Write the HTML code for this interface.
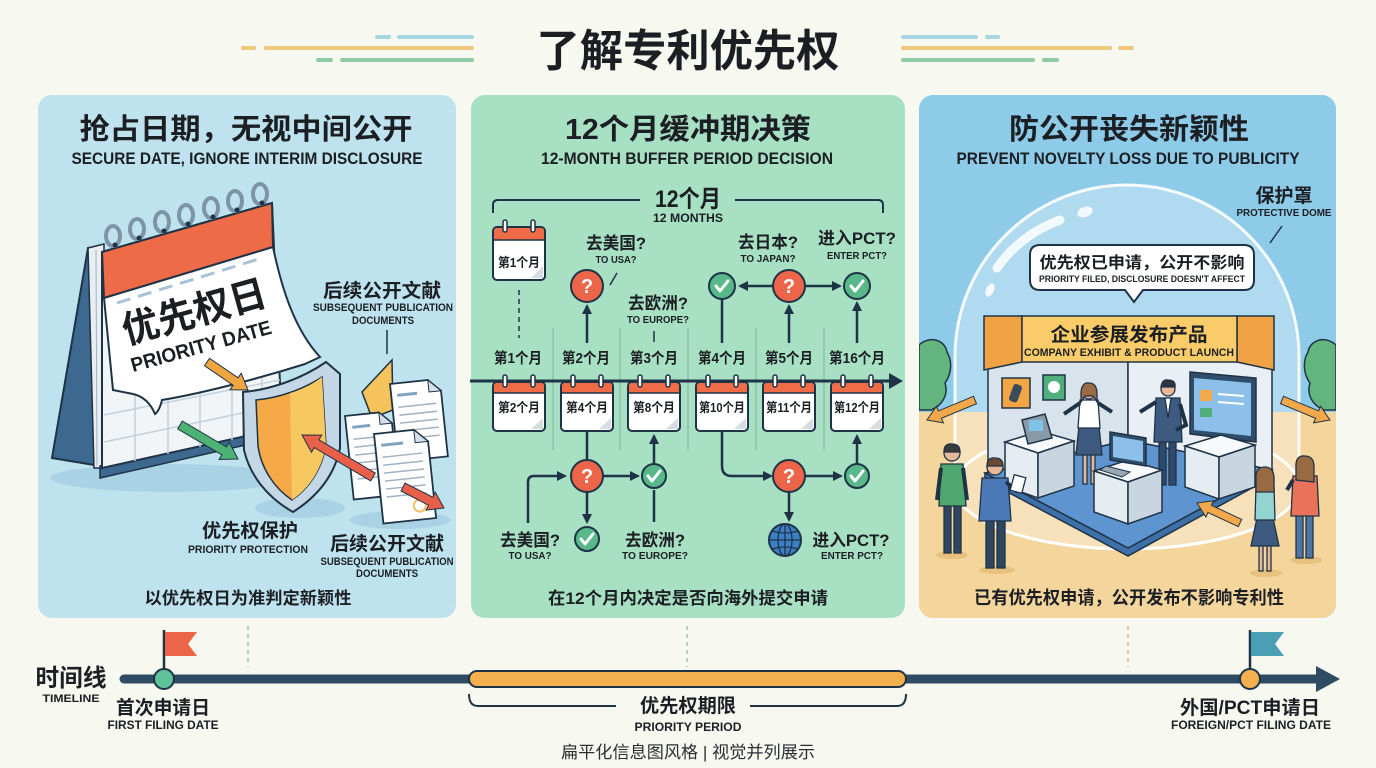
<!DOCTYPE html>
<html><head><meta charset="utf-8">
<style>
html,body{margin:0;padding:0;background:#f7f8ef;}
svg{display:block;}
.t{font-family:"Liberation Sans","Noto Sans CJK SC",sans-serif;font-weight:700;fill:#1b1f24;text-anchor:middle;}
.n{font-family:"Liberation Sans","Noto Sans CJK SC",sans-serif;font-weight:400;fill:#2a2e33;text-anchor:middle;}
</style></head>
<body>
<svg width="1376" height="768" viewBox="0 0 1376 768" xmlns="http://www.w3.org/2000/svg">
<defs>
<marker id="ah" viewBox="0 0 10 10" refX="8" refY="5" markerWidth="4" markerHeight="4" orient="auto"><path d="M0,0 L10,5 L0,10 Z" fill="#1f3346"/></marker>
<clipPath id="rp"><rect x="919" y="95" width="417" height="523" rx="14"/></clipPath>
</defs>
<rect width="1376" height="768" fill="#f7f8ef"/>

<!-- decorative lines -->
<g stroke-linecap="round" stroke-width="4">
<line x1="377" y1="37" x2="389" y2="37" stroke="#a9d6e3"/><line x1="399" y1="37" x2="472" y2="37" stroke="#a9d6e3"/>
<line x1="243" y1="48" x2="254" y2="48" stroke="#efc77c"/><line x1="266" y1="48" x2="472" y2="48" stroke="#efc77c"/>
<line x1="318" y1="60" x2="331" y2="60" stroke="#8fcaa6"/><line x1="342" y1="60" x2="472" y2="60" stroke="#8fcaa6"/>
<line x1="903" y1="37" x2="976" y2="37" stroke="#a9d6e3"/><line x1="987" y1="37" x2="998" y2="37" stroke="#a9d6e3"/>
<line x1="903" y1="48" x2="1110" y2="48" stroke="#efc77c"/><line x1="1120" y1="48" x2="1132" y2="48" stroke="#efc77c"/>
<line x1="903" y1="60" x2="1033" y2="60" stroke="#8fcaa6"/><line x1="1044" y1="60" x2="1057" y2="60" stroke="#8fcaa6"/>
</g>
<text class="t" x="688" y="66" font-size="44" textLength="303" lengthAdjust="spacingAndGlyphs" fill="#111">了解专利优先权</text>

<!-- ============ LEFT PANEL ============ -->
<rect x="38" y="95" width="418" height="523" rx="14" fill="#bee3ee"/>
<text class="t" x="246" y="139" font-size="29" textLength="333" lengthAdjust="spacingAndGlyphs">抢占日期，无视中间公开</text>
<text class="t" x="247" y="164" font-size="17" textLength="351" lengthAdjust="spacingAndGlyphs">SECURE DATE, IGNORE INTERIM DISCLOSURE</text>

<!-- shadows -->
<ellipse cx="170" cy="478" rx="120" ry="14" fill="#a9d3e5"/>
<ellipse cx="300" cy="508" rx="45" ry="10" fill="#a9d3e5"/>
<ellipse cx="400" cy="520" rx="50" ry="9" fill="#a9d3e5"/>

<!-- calendar -->
<polygon points="52,458 88,248 100,246 100,466" fill="#3d6990" stroke="#1f3346" stroke-width="2"/>
<polygon points="88,248 104,244 104,468 94,468" fill="#e9eef2" stroke="#1f3346" stroke-width="1.5"/>
<line x1="96" y1="250" x2="97" y2="466" stroke="#9fb3c3" stroke-width="1"/>
<polygon points="100,466 250,432 250,444 100,478" fill="#3d6990" stroke="#1f3346" stroke-width="1.5"/>
<polygon points="102,252 272,203 282,428 102,468" fill="#f2f5f8" stroke="#1f3346" stroke-width="2"/>
<g stroke="#c2d1dc" stroke-width="1.5">
<line x1="104" y1="415" x2="280" y2="380"/><line x1="104" y1="442" x2="281" y2="405"/>
<line x1="135" y1="392" x2="135" y2="461"/><line x1="168" y1="385" x2="168" y2="454"/><line x1="200" y1="378" x2="200" y2="447"/><line x1="232" y1="372" x2="232" y2="440"/><line x1="262" y1="366" x2="262" y2="434"/>
</g>
<polygon points="102,252 272,203 273,247 104,298" fill="#ee6b47" stroke="#1f3346" stroke-width="2"/>
<g fill="none" stroke="#7d93a8" stroke-width="4">
<ellipse cx="113" cy="236" rx="7" ry="10"/><ellipse cx="137" cy="229" rx="7" ry="10"/><ellipse cx="162" cy="222" rx="7" ry="10"/><ellipse cx="186" cy="215" rx="7" ry="10"/><ellipse cx="211" cy="208" rx="7" ry="10"/><ellipse cx="235" cy="201" rx="7" ry="10"/><ellipse cx="260" cy="194" rx="7" ry="10"/>
</g>
<g fill="#1f3346"><circle cx="115" cy="245" r="2.5"/><circle cx="139" cy="238" r="2.5"/><circle cx="164" cy="231" r="2.5"/><circle cx="188" cy="224" r="2.5"/><circle cx="213" cy="217" r="2.5"/><circle cx="237" cy="210" r="2.5"/><circle cx="262" cy="203" r="2.5"/></g>
<path d="M104,298 L273,247 C282,290 295,330 320,357 L305,364 C270,375 210,392 162,400 C160,408 158,412 155,414 C150,402 142,396 133,394 L113,390 Z" fill="#ffffff" stroke="#1f3346" stroke-width="2"/>
<line x1="117" y1="303" x2="262" y2="258" stroke="#a9c2d5" stroke-width="3" stroke-dasharray="14 8"/>
<text class="t" font-size="38" transform="translate(194,311) rotate(-15.5)" y="14" textLength="148" lengthAdjust="spacingAndGlyphs" fill="#111">优先权日</text>
<text class="t" font-size="20" transform="translate(201,346) rotate(-15.5)" y="7" textLength="145" lengthAdjust="spacingAndGlyphs" fill="#111">PRIORITY DATE</text>

<!-- arrows orange & green -->
<polygon points="204.5,365.7 233.1,385.2 230,389.8 248,390 241.2,373.2 238.1,377.8 209.5,358.3" fill="#f0a640" stroke="#1f3346" stroke-width="1"/>
<polygon points="177.7,428.9 221.9,454.8 219.1,459.5 238,459 229.3,442.3 226.5,447 182.3,421.1" fill="#4db374" stroke="#1f3346" stroke-width="1"/>

<!-- shield -->
<path d="M243,392 C268,390 300,380 326,362 L340,374 L340,448 C334,478 315,498 293,512 C268,498 250,476 244,450 Z" fill="#c3d7e6" stroke="#1f3346" stroke-width="2"/>
<path d="M256,400 C278,398 302,390 322,377 L326,446 C321,472 307,490 292,500 C274,488 261,468 258,446 Z" fill="#f5a947" stroke="#1f3346" stroke-width="1.5"/>
<path d="M290,393 C302,390 313,384 322,377 L326,446 C321,472 307,490 292,500 Z" fill="#f8c860"/>

<!-- documents -->
<line x1="387" y1="330" x2="387" y2="354" stroke="#1f3346" stroke-width="1.5"/>
<polygon points="362,392 392,360 393,410 372,418" fill="#f5c25c" stroke="#1f3346" stroke-width="1.5"/>
<g transform="translate(390,384) rotate(-6)">
<path d="M0,0 L38,0 L50,12 L50,78 L0,78 Z" fill="#fff" stroke="#1f3346" stroke-width="1.8"/><path d="M38,0 L38,12 L50,12 Z" fill="#d7e0e7" stroke="#1f3346" stroke-width="1"/>
<g stroke="#9fb3c3" stroke-width="1.5"><line x1="6" y1="12" x2="26" y2="12" stroke="#7fa3bf" stroke-width="3"/><line x1="6" y1="24" x2="44" y2="24"/><line x1="6" y1="32" x2="44" y2="32"/><line x1="6" y1="40" x2="44" y2="40"/><line x1="6" y1="48" x2="44" y2="48"/><line x1="6" y1="56" x2="44" y2="56"/></g></g>
<g transform="translate(345,416) rotate(-6)">
<path d="M0,0 L34,0 L46,12 L46,84 L0,84 Z" fill="#fff" stroke="#1f3346" stroke-width="1.8"/><path d="M34,0 L34,12 L46,12 Z" fill="#d7e0e7" stroke="#1f3346" stroke-width="1"/>
<g stroke="#9fb3c3" stroke-width="1.5"><line x1="6" y1="12" x2="24" y2="12" stroke="#7fa3bf" stroke-width="3"/><line x1="6" y1="24" x2="40" y2="24"/><line x1="6" y1="32" x2="40" y2="32"/><line x1="6" y1="40" x2="40" y2="40"/><line x1="6" y1="48" x2="40" y2="48"/><line x1="6" y1="56" x2="40" y2="56"/><line x1="6" y1="64" x2="40" y2="64"/></g></g>
<g transform="translate(374,434) rotate(-6)">
<path d="M0,0 L40,0 L53,13 L53,90 L0,90 Z" fill="#fff" stroke="#1f3346" stroke-width="1.8"/><path d="M40,0 L40,13 L53,13 Z" fill="#d7e0e7" stroke="#1f3346" stroke-width="1"/>
<g stroke="#9fb3c3" stroke-width="1.5"><line x1="6" y1="12" x2="28" y2="12" stroke="#7fa3bf" stroke-width="3"/><line x1="6" y1="24" x2="46" y2="24"/><line x1="6" y1="32" x2="46" y2="32"/><line x1="6" y1="40" x2="46" y2="40"/><line x1="6" y1="48" x2="46" y2="48"/><line x1="6" y1="56" x2="46" y2="56"/><line x1="6" y1="64" x2="46" y2="64"/></g>
<circle cx="38" cy="76" r="6" fill="none" stroke="#f0c060" stroke-width="2"/></g>
<polygon points="375.3,473.1 318.9,439.8 321.7,435.1 302,435 311.5,452.3 314.3,447.6 370.7,480.9" fill="#e8604a" stroke="#1f3346" stroke-width="1"/>
<polygon points="401,491 428.6,505.2 426.1,510.1 444,508 435.3,492.3 432.8,497.2 405,483" fill="#e8604a" stroke="#1f3346" stroke-width="1"/>

<text class="t" x="382" y="297" font-size="19" textLength="118" lengthAdjust="spacingAndGlyphs">后续公开文献</text>
<text class="t" x="383" y="311" font-size="11" textLength="140" lengthAdjust="spacingAndGlyphs">SUBSEQUENT PUBLICATION</text>
<text class="t" x="383" y="324" font-size="11" textLength="62" lengthAdjust="spacingAndGlyphs">DOCUMENTS</text>
<text class="t" x="250" y="537" font-size="19" textLength="96" lengthAdjust="spacingAndGlyphs">优先权保护</text>
<text class="t" x="248" y="553" font-size="11" textLength="120" lengthAdjust="spacingAndGlyphs">PRIORITY PROTECTION</text>
<text class="t" x="387" y="550" font-size="19" textLength="114" lengthAdjust="spacingAndGlyphs">后续公开文献</text>
<text class="t" x="387" y="565" font-size="11" textLength="133" lengthAdjust="spacingAndGlyphs">SUBSEQUENT PUBLICATION</text>
<text class="t" x="387" y="577" font-size="11" textLength="62" lengthAdjust="spacingAndGlyphs">DOCUMENTS</text>
<text class="t" x="248" y="604" font-size="17" textLength="207" lengthAdjust="spacingAndGlyphs">以优先权日为准判定新颖性</text>

<!-- ============ MIDDLE PANEL ============ -->
<rect x="471" y="95" width="434" height="523" rx="14" fill="#a8e0c3"/>
<text class="t" x="688" y="139" font-size="29" textLength="246" lengthAdjust="spacingAndGlyphs">12个月缓冲期决策</text>
<text class="t" x="687" y="164" font-size="17" textLength="292" lengthAdjust="spacingAndGlyphs">12-MONTH BUFFER PERIOD DECISION</text>
<path d="M493,213 L493,205 Q493,200 498,200 L640,200 M735,200 L878,200 Q883,200 883,205 L883,213" stroke="#1f3346" stroke-width="2" fill="none"/>
<text class="t" x="688" y="207" font-size="24" textLength="66" lengthAdjust="spacingAndGlyphs">12个月</text>
<text class="t" x="688" y="222" font-size="12" textLength="70" lengthAdjust="spacingAndGlyphs">12 MONTHS</text>

<!-- column dividers -->
<g stroke="#6e9e8c" stroke-width="1" opacity="0.7">
<line x1="553" y1="328" x2="553" y2="450"/><line x1="620" y1="328" x2="620" y2="450"/><line x1="688" y1="328" x2="688" y2="450"/><line x1="756" y1="328" x2="756" y2="450"/><line x1="824" y1="328" x2="824" y2="450"/>
</g>
<!-- top calendar -->
<rect x="493" y="227" width="52" height="53" rx="4" fill="#fff" stroke="#1f3346" stroke-width="2"/>
<path d="M494,240 L494,231 Q494,228 497,228 L541,228 Q544,228 544,231 L544,240 Z" fill="#ef6c47"/>
<line x1="494" y1="240" x2="544" y2="240" stroke="#1f3346" stroke-width="1.5"/>
<rect x="503" y="220" width="4" height="12" rx="2" fill="#fff" stroke="#1f3346" stroke-width="1.5"/><rect x="531" y="220" width="4" height="12" rx="2" fill="#fff" stroke="#1f3346" stroke-width="1.5"/>
<polygon points="543,266 543,278 531,278" fill="#d5dde3"/>
<text class="t" x="519" y="267" font-size="13" textLength="42" lengthAdjust="spacingAndGlyphs">第1个月</text>
<line x1="519" y1="290" x2="519" y2="338" stroke="#1f3346" stroke-width="1.5" stroke-dasharray="5 4"/>

<!-- upper decisions -->
<text class="t" x="616" y="249" font-size="17" textLength="60" lengthAdjust="spacingAndGlyphs">去美国?</text>
<text class="t" x="616" y="263" font-size="10.5" textLength="41" lengthAdjust="spacingAndGlyphs">TO USA?</text>
<line x1="610" y1="285" x2="617" y2="273" stroke="#1f3346" stroke-width="1.5"/>
<line x1="587" y1="343" x2="587" y2="306" stroke="#1f3346" stroke-width="2.5" marker-end="url(#ah)"/>
<circle cx="587" cy="286" r="16" fill="#ec6549" stroke="#1f3346" stroke-width="2"/>
<text class="t" x="587" y="293" font-size="20" fill="#fff" style="fill:#fff">?</text>
<text class="t" x="658" y="309" font-size="17" textLength="60" lengthAdjust="spacingAndGlyphs">去欧洲?</text>
<text class="t" x="658" y="323" font-size="10.5" textLength="62" lengthAdjust="spacingAndGlyphs">TO EUROPE?</text>
<line x1="654" y1="331" x2="654" y2="342" stroke="#1f3346" stroke-width="1.5"/>
<text class="t" x="768" y="248" font-size="17" textLength="60" lengthAdjust="spacingAndGlyphs">去日本?</text>
<text class="t" x="768" y="262" font-size="10.5" textLength="55" lengthAdjust="spacingAndGlyphs">TO JAPAN?</text>
<text class="t" x="857" y="244" font-size="17" textLength="78" lengthAdjust="spacingAndGlyphs">进入PCT?</text>
<text class="t" x="857" y="259" font-size="10.5" textLength="60" lengthAdjust="spacingAndGlyphs">ENTER PCT?</text>
<line x1="722" y1="299" x2="722" y2="343" stroke="#1f3346" stroke-width="2.5"/>
<line x1="773" y1="286" x2="740" y2="286" stroke="#1f3346" stroke-width="2.5" marker-end="url(#ah)"/>
<line x1="805" y1="286" x2="840" y2="286" stroke="#1f3346" stroke-width="2.5" marker-end="url(#ah)"/>
<line x1="789" y1="343" x2="789" y2="306" stroke="#1f3346" stroke-width="2.5" marker-end="url(#ah)"/>
<line x1="857" y1="343" x2="857" y2="303" stroke="#1f3346" stroke-width="2.5" marker-end="url(#ah)"/>
<circle cx="722" cy="286" r="13" fill="#58b88a" stroke="#1f3346" stroke-width="2"/>
<polyline points="716,286 720,291 728,281" fill="none" stroke="#fff" stroke-width="3" stroke-linecap="round" stroke-linejoin="round"/>
<circle cx="789" cy="286" r="16" fill="#ec6549" stroke="#1f3346" stroke-width="2"/>
<text class="t" x="789" y="293" font-size="20" style="fill:#fff">?</text>
<circle cx="857" cy="286" r="13" fill="#58b88a" stroke="#1f3346" stroke-width="2"/>
<polyline points="851,286 855,291 863,281" fill="none" stroke="#fff" stroke-width="3" stroke-linecap="round" stroke-linejoin="round"/>

<!-- month labels -->
<g font-size="15">
<text class="t" x="518" y="363" textLength="48" lengthAdjust="spacingAndGlyphs">第1个月</text>
<text class="t" x="586" y="363" textLength="48" lengthAdjust="spacingAndGlyphs">第2个月</text>
<text class="t" x="654" y="363" textLength="48" lengthAdjust="spacingAndGlyphs">第3个月</text>
<text class="t" x="722" y="363" textLength="48" lengthAdjust="spacingAndGlyphs">第4个月</text>
<text class="t" x="789" y="363" textLength="48" lengthAdjust="spacingAndGlyphs">第5个月</text>
<text class="t" x="857" y="363" textLength="56" lengthAdjust="spacingAndGlyphs">第16个月</text>
</g>
<!-- axis -->
<line x1="470" y1="381" x2="892" y2="381" stroke="#1f3346" stroke-width="3"/>
<polygon points="889,373 903,381 889,389" fill="#1f3346"/>

<!-- lower calendars -->
<g id="cals">
<g transform="translate(519,0)"><rect x="-26" y="382" width="52" height="49" rx="4" fill="#fff" stroke="#1f3346" stroke-width="2"/><path d="M-25,393 L-25,386 Q-25,383 -22,383 L22,383 Q25,383 25,386 L25,393 Z" fill="#ef6c47"/><line x1="-25" y1="393" x2="25" y2="393" stroke="#1f3346" stroke-width="1.5"/><rect x="-16" y="375" width="4" height="12" rx="2" fill="#fff" stroke="#1f3346" stroke-width="1.5"/><rect x="12" y="375" width="4" height="12" rx="2" fill="#fff" stroke="#1f3346" stroke-width="1.5"/><polygon points="24,418 24,429 12,429" fill="#d5dde3"/><text class="t" x="0" y="412" font-size="13" textLength="42" lengthAdjust="spacingAndGlyphs">第2个月</text></g>
<g transform="translate(587,0)"><rect x="-26" y="382" width="52" height="49" rx="4" fill="#fff" stroke="#1f3346" stroke-width="2"/><path d="M-25,393 L-25,386 Q-25,383 -22,383 L22,383 Q25,383 25,386 L25,393 Z" fill="#ef6c47"/><line x1="-25" y1="393" x2="25" y2="393" stroke="#1f3346" stroke-width="1.5"/><rect x="-16" y="375" width="4" height="12" rx="2" fill="#fff" stroke="#1f3346" stroke-width="1.5"/><rect x="12" y="375" width="4" height="12" rx="2" fill="#fff" stroke="#1f3346" stroke-width="1.5"/><polygon points="24,418 24,429 12,429" fill="#d5dde3"/><text class="t" x="0" y="412" font-size="13" textLength="42" lengthAdjust="spacingAndGlyphs">第4个月</text></g>
<g transform="translate(654,0)"><rect x="-26" y="382" width="52" height="49" rx="4" fill="#fff" stroke="#1f3346" stroke-width="2"/><path d="M-25,393 L-25,386 Q-25,383 -22,383 L22,383 Q25,383 25,386 L25,393 Z" fill="#ef6c47"/><line x1="-25" y1="393" x2="25" y2="393" stroke="#1f3346" stroke-width="1.5"/><rect x="-16" y="375" width="4" height="12" rx="2" fill="#fff" stroke="#1f3346" stroke-width="1.5"/><rect x="12" y="375" width="4" height="12" rx="2" fill="#fff" stroke="#1f3346" stroke-width="1.5"/><polygon points="24,418 24,429 12,429" fill="#d5dde3"/><text class="t" x="0" y="412" font-size="13" textLength="42" lengthAdjust="spacingAndGlyphs">第8个月</text></g>
<g transform="translate(722,0)"><rect x="-26" y="382" width="52" height="49" rx="4" fill="#fff" stroke="#1f3346" stroke-width="2"/><path d="M-25,393 L-25,386 Q-25,383 -22,383 L22,383 Q25,383 25,386 L25,393 Z" fill="#ef6c47"/><line x1="-25" y1="393" x2="25" y2="393" stroke="#1f3346" stroke-width="1.5"/><rect x="-16" y="375" width="4" height="12" rx="2" fill="#fff" stroke="#1f3346" stroke-width="1.5"/><rect x="12" y="375" width="4" height="12" rx="2" fill="#fff" stroke="#1f3346" stroke-width="1.5"/><polygon points="24,418 24,429 12,429" fill="#d5dde3"/><text class="t" x="0" y="412" font-size="13" textLength="46" lengthAdjust="spacingAndGlyphs">第10个月</text></g>
<g transform="translate(789,0)"><rect x="-26" y="382" width="52" height="49" rx="4" fill="#fff" stroke="#1f3346" stroke-width="2"/><path d="M-25,393 L-25,386 Q-25,383 -22,383 L22,383 Q25,383 25,386 L25,393 Z" fill="#ef6c47"/><line x1="-25" y1="393" x2="25" y2="393" stroke="#1f3346" stroke-width="1.5"/><rect x="-16" y="375" width="4" height="12" rx="2" fill="#fff" stroke="#1f3346" stroke-width="1.5"/><rect x="12" y="375" width="4" height="12" rx="2" fill="#fff" stroke="#1f3346" stroke-width="1.5"/><polygon points="24,418 24,429 12,429" fill="#d5dde3"/><text class="t" x="0" y="412" font-size="13" textLength="46" lengthAdjust="spacingAndGlyphs">第11个月</text></g>
<g transform="translate(857,0)"><rect x="-26" y="382" width="52" height="49" rx="4" fill="#fff" stroke="#1f3346" stroke-width="2"/><path d="M-25,393 L-25,386 Q-25,383 -22,383 L22,383 Q25,383 25,386 L25,393 Z" fill="#ef6c47"/><line x1="-25" y1="393" x2="25" y2="393" stroke="#1f3346" stroke-width="1.5"/><rect x="-16" y="375" width="4" height="12" rx="2" fill="#fff" stroke="#1f3346" stroke-width="1.5"/><rect x="12" y="375" width="4" height="12" rx="2" fill="#fff" stroke="#1f3346" stroke-width="1.5"/><polygon points="24,418 24,429 12,429" fill="#d5dde3"/><text class="t" x="0" y="412" font-size="13" textLength="46" lengthAdjust="spacingAndGlyphs">第12个月</text></g>
</g>

<!-- lower flows -->
<g stroke="#1f3346" stroke-width="2.5" fill="none">
<line x1="587" y1="431" x2="587" y2="460"/>
<path d="M528,523 L528,482 Q528,476 534,476 L565,476" marker-end="url(#ah)"/>
<line x1="603" y1="476" x2="638" y2="476" marker-end="url(#ah)"/>
<line x1="654" y1="464" x2="654" y2="436" marker-end="url(#ah)"/>
<line x1="587" y1="492" x2="587" y2="522" marker-end="url(#ah)"/>
<line x1="654" y1="490" x2="654" y2="522"/>
<path d="M722,431 L722,466 Q722,476 732,476 L771,476" marker-end="url(#ah)"/>
<line x1="805" y1="476" x2="841" y2="476" marker-end="url(#ah)"/>
<line x1="857" y1="464" x2="857" y2="436" marker-end="url(#ah)"/>
<line x1="789" y1="492" x2="789" y2="520" marker-end="url(#ah)"/>
</g>
<circle cx="587" cy="476" r="16" fill="#ec6549" stroke="#1f3346" stroke-width="2"/>
<text class="t" x="587" y="483" font-size="20" style="fill:#fff">?</text>
<circle cx="654" cy="476" r="12" fill="#58b88a" stroke="#1f3346" stroke-width="2"/>
<polyline points="648,476 652,481 660,471" fill="none" stroke="#fff" stroke-width="3" stroke-linecap="round" stroke-linejoin="round"/>
<circle cx="587" cy="539" r="12" fill="#58b88a" stroke="#1f3346" stroke-width="2"/>
<polyline points="581,539 585,544 593,534" fill="none" stroke="#fff" stroke-width="3" stroke-linecap="round" stroke-linejoin="round"/>
<circle cx="789" cy="476" r="16" fill="#ec6549" stroke="#1f3346" stroke-width="2"/>
<text class="t" x="789" y="483" font-size="20" style="fill:#fff">?</text>
<circle cx="857" cy="476" r="12" fill="#58b88a" stroke="#1f3346" stroke-width="2"/>
<polyline points="851,476 855,481 863,471" fill="none" stroke="#fff" stroke-width="3" stroke-linecap="round" stroke-linejoin="round"/>
<!-- globe -->
<circle cx="785" cy="540" r="16" fill="#3b80c6" stroke="#1f3346" stroke-width="2"/>
<g fill="none" stroke="#1f3346" stroke-width="1.3"><ellipse cx="785" cy="540" rx="7" ry="16"/><line x1="785" y1="524" x2="785" y2="556"/><line x1="769" y1="540" x2="801" y2="540"/><path d="M772,531 Q785,535 798,531 M772,549 Q785,545 798,549"/></g>

<text class="t" x="530" y="546" font-size="17" textLength="60" lengthAdjust="spacingAndGlyphs">去美国?</text>
<text class="t" x="530" y="559" font-size="10.5" textLength="43" lengthAdjust="spacingAndGlyphs">TO USA?</text>
<text class="t" x="655" y="546" font-size="17" textLength="60" lengthAdjust="spacingAndGlyphs">去欧洲?</text>
<text class="t" x="655" y="559" font-size="10.5" textLength="66" lengthAdjust="spacingAndGlyphs">TO EUROPE?</text>
<text class="t" x="851" y="546" font-size="17" textLength="77" lengthAdjust="spacingAndGlyphs">进入PCT?</text>
<text class="t" x="852" y="559" font-size="10.5" textLength="62" lengthAdjust="spacingAndGlyphs">ENTER PCT?</text>
<text class="t" x="688" y="604" font-size="17" textLength="280" lengthAdjust="spacingAndGlyphs">在12个月内决定是否向海外提交申请</text>

<!-- ============ RIGHT PANEL ============ -->
<g clip-path="url(#rp)">
<rect x="919" y="95" width="417" height="523" fill="#8ecbe9"/>
<rect x="919" y="412" width="417" height="206" fill="#f4d59c"/>
<path d="M919,345 C930,335 945,340 947,352 C953,362 951,375 945,383 C949,396 941,406 931,410 L919,410 Z" fill="#62b67d" stroke="#1f3346" stroke-width="1.5"/>
<path d="M1336,345 C1325,335 1310,340 1308,352 C1302,362 1304,375 1310,383 C1306,396 1314,406 1324,410 L1336,410 Z" fill="#62b67d" stroke="#1f3346" stroke-width="1.5"/>
</g>
<!-- dome -->
<path d="M955,487 L955,357 A172,172 0 0 1 1299,357 L1299,487 A172,62 0 0 1 955,487 Z" fill="#ffffff" opacity="0.3"/>
<path d="M955,490 L955,357 A172,172 0 0 1 1299,357 L1299,490" fill="none" stroke="#ffffff" stroke-width="3" opacity="0.9"/>
<ellipse cx="1127" cy="487" rx="172" ry="62" fill="none" stroke="#ffffff" stroke-width="3"/>
<path d="M997,268 Q1020,235 1060,220" fill="none" stroke="#fff" stroke-width="9" stroke-linecap="round" opacity="0.85"/>
<ellipse cx="1085" cy="212" rx="8" ry="5" fill="#fff" opacity="0.85" transform="rotate(-20 1085 212)"/>
<ellipse cx="990" cy="290" rx="4" ry="7" fill="#fff" opacity="0.85" transform="rotate(25 990 290)"/>

<text class="t" x="1284" y="202" font-size="19" textLength="57" lengthAdjust="spacingAndGlyphs">保护罩</text>
<text class="t" x="1284" y="216" font-size="10" textLength="95" lengthAdjust="spacingAndGlyphs">PROTECTIVE DOME</text>
<line x1="1282" y1="226" x2="1270" y2="243" stroke="#1f3346" stroke-width="1.5"/>

<!-- bubble -->
<path d="M1040,245 L1244,245 Q1254,245 1254,255 L1254,280 Q1254,290 1244,290 L1143,290 L1134,302 L1125,290 L1040,290 Q1030,290 1030,280 L1030,255 Q1030,245 1040,245 Z" fill="#fff" stroke="#1f3346" stroke-width="2"/>
<text class="t" x="1142" y="268" font-size="16" textLength="205" lengthAdjust="spacingAndGlyphs">优先权已申请，公开不影响</text>
<text class="t" x="1142" y="282" font-size="9" textLength="206" lengthAdjust="spacingAndGlyphs">PRIORITY FILED, DISCLOSURE DOESN'T AFFECT</text>

<!-- booth -->
<polygon points="985,473 1128,548 1272,470 1272,477 1128,556 985,480" fill="#3d6fa8" stroke="#1f3346" stroke-width="1.5"/>
<polygon points="985,473 1128,548 1272,470 1128,440" fill="#5e95d1" stroke="#1f3346" stroke-width="1.5"/>
<polygon points="988,360 1128,360 1128,440 988,473" fill="#d8e3ec" stroke="#1f3346" stroke-width="1.5"/>
<polygon points="1128,360 1272,360 1272,470 1128,440" fill="#e9eff4" stroke="#1f3346" stroke-width="1.5"/>
<polygon points="984,316 1022,316 1022,362 984,370" fill="#f0a345" stroke="#1f3346" stroke-width="1.5"/>
<polygon points="1237,316 1274,316 1274,370 1237,362" fill="#f0a345" stroke="#1f3346" stroke-width="1.5"/>
<rect x="1022" y="316" width="215" height="46" fill="#f9cc69" stroke="#1f3346" stroke-width="1.5"/>
<text class="t" x="1129" y="341" font-size="19" textLength="157" lengthAdjust="spacingAndGlyphs">企业参展发布产品</text>
<text class="t" x="1129" y="356" font-size="11" textLength="210" lengthAdjust="spacingAndGlyphs">COMPANY EXHIBIT &amp; PRODUCT LAUNCH</text>
<!-- wall items -->
<rect x="1002" y="378" width="28" height="30" fill="#f1a545" stroke="#1f3346" stroke-width="1.5"/>
<rect x="1011" y="384" width="9" height="18" rx="3" fill="#3b4b5c" transform="rotate(20 1015 393)"/>
<rect x="1043" y="375" width="22" height="25" fill="#4fae7c" stroke="#1f3346" stroke-width="1.5"/>
<circle cx="1054" cy="387" r="6" fill="#fff"/>
<polygon points="1190,372 1256,378 1256,442 1190,434" fill="#2f4d6b" stroke="#1f3346" stroke-width="1.5"/>
<polygon points="1194,378 1251,383 1251,436 1194,430" fill="#8cc0ea"/>
<rect x="1200" y="390" width="12" height="11" fill="#f3a94b"/><rect x="1200" y="408" width="12" height="9" fill="#4fae7c"/>
<line x1="1218" y1="394" x2="1244" y2="396" stroke="#fff" stroke-width="2"/><line x1="1218" y1="402" x2="1244" y2="404" stroke="#fff" stroke-width="2"/>
<rect x="1216" y="440" width="14" height="10" fill="#2f4d6b"/>
<!-- pedestals -->
<polygon points="1005,442 1040,431 1074,441 1038,453" fill="#f7fafc" stroke="#1f3346" stroke-width="1.5"/>
<polygon points="1005,442 1038,453 1038,498 1005,486" fill="#e5edf3" stroke="#1f3346" stroke-width="1.5"/>
<polygon points="1038,453 1074,441 1074,486 1038,498" fill="#c9d6e0" stroke="#1f3346" stroke-width="1.5"/>
<polygon points="1022,420 1045,414 1052,438 1028,444" fill="#8a9aa8" stroke="#1f3346" stroke-width="1.5"/>
<rect x="1029" y="420" width="14" height="11" fill="#7fc3ea"/>
<polygon points="1185,446 1221,435 1255,445 1219,457" fill="#f7fafc" stroke="#1f3346" stroke-width="1.5"/>
<polygon points="1185,446 1219,457 1219,499 1185,487" fill="#e5edf3" stroke="#1f3346" stroke-width="1.5"/>
<polygon points="1219,457 1255,445 1255,487 1219,499" fill="#c9d6e0" stroke="#1f3346" stroke-width="1.5"/>
<!-- people presenters -->
<g stroke="#1f3346" stroke-width="1.3">
<rect x="1083" y="450" width="4" height="34" fill="#e6b89a"/><rect x="1091" y="450" width="4" height="34" fill="#e6b89a"/>
<path d="M1079,426 L1099,426 L1102,455 L1076,455 Z" fill="#3e5a80"/>
<path d="M1080,400 L1098,400 L1100,428 L1078,428 Z" fill="#fff"/>
<path d="M1080,403 L1064,414 M1098,403 L1112,412" stroke="#1f3346" stroke-width="4" fill="none"/>
<circle cx="1089" cy="392" r="7" fill="#e6b89a"/><path d="M1081,392 Q1082,382 1089,383 Q1097,383 1097,394 L1097,402 L1093,396 L1085,396 L1081,402 Z" fill="#9a6a43"/>
<rect x="1159" y="438" width="7" height="47" fill="#2f4a6d"/><rect x="1169" y="438" width="7" height="47" fill="#2f4a6d"/>
<path d="M1156,398 L1180,398 L1182,442 L1154,442 Z" fill="#3d5a80"/>
<polygon points="1165,398 1171,398 1168,418" fill="#fff"/>
<path d="M1156,402 L1140,412 M1180,404 L1186,425 L1176,430" stroke="#1f3346" stroke-width="4" fill="none"/>
<circle cx="1168" cy="389" r="7" fill="#e6b89a"/><path d="M1161,387 Q1162,379 1168,380 Q1176,380 1175,387 Z" fill="#2f3540"/>
</g>
<!-- center pedestal + computer -->
<polygon points="1094,471 1128,460 1162,470 1128,482" fill="#f7fafc" stroke="#1f3346" stroke-width="1.5"/>
<polygon points="1094,471 1128,482 1128,524 1094,512" fill="#e5edf3" stroke="#1f3346" stroke-width="1.5"/>
<polygon points="1128,482 1162,470 1162,512 1128,524" fill="#c9d6e0" stroke="#1f3346" stroke-width="1.5"/>
<polygon points="1110,432 1146,438 1146,466 1110,460" fill="#2f4d6b" stroke="#1f3346" stroke-width="1.5"/>
<polygon points="1113,436 1143,441 1143,462 1113,457" fill="#8cc0ea"/>
<polygon points="1106,466 1130,472 1122,477 1100,470" fill="#9aa8b4" stroke="#1f3346" stroke-width="1"/>
<!-- visitors -->
<g fill="#e9c17f"><ellipse cx="952" cy="555" rx="16" ry="4"/><ellipse cx="997" cy="570" rx="18" ry="4"/><ellipse cx="1266" cy="573" rx="16" ry="4"/><ellipse cx="1306" cy="560" rx="16" ry="4"/></g>
<g stroke="#1f3346" stroke-width="1.3">
<rect x="944" y="503" width="7" height="50" fill="#2f4660"/><rect x="954" y="503" width="7" height="50" fill="#2f4660"/>
<path d="M941,464 L963,464 L966,506 L939,506 Z" fill="#4fa86e"/>
<path d="M941,468 L937,500 M963,468 L967,500" stroke-width="4" fill="none"/>
<circle cx="952" cy="453" r="8" fill="#e6b89a"/><path d="M944,452 Q944,443 952,444 Q960,444 960,452 Z" fill="#3a3a3a"/>
<rect x="986" y="518" width="8" height="50" fill="#2f4660"/><rect x="997" y="518" width="8" height="50" fill="#2f4660"/>
<path d="M982,478 L1008,478 L1011,521 L979,521 Z" fill="#4b79b8"/>
<path d="M1006,482 L1018,492" stroke-width="4" fill="none"/>
<rect x="1012" y="476" width="12" height="16" fill="#fff" transform="rotate(15 1018 484)"/>
<circle cx="995" cy="467" r="8" fill="#e6b89a"/><path d="M987,466 Q987,457 995,458 Q1003,458 1003,466 Z" fill="#6b4a32"/>
<rect x="1259" y="543" width="4" height="28" fill="#e6b89a"/><rect x="1267" y="543" width="4" height="28" fill="#e6b89a"/>
<path d="M1257,518 L1273,518 L1279,546 L1251,546 Z" fill="#3e5a80"/>
<path d="M1256,486 L1274,486 L1275,520 L1255,520 Z" fill="#93d3d0"/>
<circle cx="1265" cy="477" r="8" fill="#e6b89a"/><path d="M1256,479 Q1255,467 1265,467 Q1275,467 1274,482 L1274,492 L1256,492 Z" fill="#9a6a43"/>
<rect x="1296" y="513" width="7" height="45" fill="#4d76a6"/><rect x="1306" y="513" width="7" height="45" fill="#4d76a6"/>
<path d="M1293,476 L1317,476 L1319,516 L1291,516 Z" fill="#e8735a"/>
<path d="M1293,480 L1287,490" stroke-width="4" fill="none"/>
<circle cx="1305" cy="465" r="8" fill="#e6b89a"/><path d="M1296,468 Q1295,455 1305,456 Q1315,456 1314,470 L1314,482 L1296,480 Z" fill="#9a6a43"/>
</g>
<!-- orange arrows right panel -->
<polygon points="973.5,396.3 938.4,410.9 936.4,406.3 927,420 943.4,422.9 941.4,418.3 976.5,403.7" fill="#f3a94b" stroke="#1f3346" stroke-width="1"/>
<polygon points="1280.5,403.7 1315.6,418.3 1313.6,422.9 1330,420 1320.6,406.3 1318.6,410.9 1283.5,396.3" fill="#f3a94b" stroke="#1f3346" stroke-width="1"/>
<polygon points="1241.7,519.4 1211.4,505.3 1213.5,500.7 1197,503 1205.9,517.1 1208,512.5 1238.3,526.6" fill="#f3a94b" stroke="#1f3346" stroke-width="1"/>

<text class="t" x="1129" y="139" font-size="29" textLength="240" lengthAdjust="spacingAndGlyphs">防公开丧失新颖性</text>
<text class="t" x="1128" y="164" font-size="17" textLength="343" lengthAdjust="spacingAndGlyphs">PREVENT NOVELTY LOSS DUE TO PUBLICITY</text>
<text class="t" x="1129" y="604" font-size="18" textLength="310" lengthAdjust="spacingAndGlyphs">已有优先权申请，公开发布不影响专利性</text>

<!-- ============ TIMELINE ============ -->
<g stroke-width="1.5" stroke-dasharray="4 4">
<line x1="248" y1="626" x2="248" y2="667" stroke="#8fc3c4"/>
<line x1="687" y1="626" x2="687" y2="667" stroke="#9bc9b2"/>
<line x1="1128" y1="626" x2="1128" y2="667" stroke="#e6b677"/>
</g>
<line x1="124" y1="679" x2="1320" y2="679" stroke="#2e4b63" stroke-width="9" stroke-linecap="round"/>
<polygon points="1316,666 1340,679 1316,692" fill="#2e4b63"/>
<rect x="469" y="671" width="437" height="16" rx="8" fill="#f4b04f" stroke="#1f3346" stroke-width="2"/>
<line x1="164" y1="630" x2="164" y2="679" stroke="#1f3346" stroke-width="2.5"/>
<polygon points="165,632 197,632 188,644 197,656 165,656" fill="#ec6549"/>
<circle cx="164" cy="679" r="10" fill="#5fc29b" stroke="#1f3346" stroke-width="2"/>
<line x1="1250" y1="630" x2="1250" y2="679" stroke="#1f3346" stroke-width="2.5"/>
<polygon points="1251,632 1284,632 1275,644 1284,656 1251,656" fill="#4a9fb5"/>
<circle cx="1250" cy="679" r="10" fill="#f4b04f" stroke="#1f3346" stroke-width="2"/>
<path d="M469,694 Q469,706 478,706 L616,706 M750,706 L897,706 Q906,706 906,694" fill="none" stroke="#1f3346" stroke-width="2"/>

<text class="t" x="71" y="686" font-size="24" textLength="71" lengthAdjust="spacingAndGlyphs">时间线</text>
<text class="t" x="71" y="702" font-size="11" textLength="57" lengthAdjust="spacingAndGlyphs">TIMELINE</text>
<text class="t" x="163" y="714" font-size="19" textLength="94" lengthAdjust="spacingAndGlyphs">首次申请日</text>
<text class="t" x="163" y="729" font-size="12" textLength="111" lengthAdjust="spacingAndGlyphs">FIRST FILING DATE</text>
<text class="t" x="688" y="712" font-size="19" textLength="96" lengthAdjust="spacingAndGlyphs">优先权期限</text>
<text class="t" x="688" y="731" font-size="12" textLength="107" lengthAdjust="spacingAndGlyphs">PRIORITY PERIOD</text>
<text class="t" x="1250" y="714" font-size="19" textLength="140" lengthAdjust="spacingAndGlyphs">外国/PCT申请日</text>
<text class="t" x="1251" y="729" font-size="12" textLength="160" lengthAdjust="spacingAndGlyphs">FOREIGN/PCT FILING DATE</text>
<text class="n" x="688" y="758" font-size="17" textLength="254" lengthAdjust="spacingAndGlyphs">扁平化信息图风格 | 视觉并列展示</text>
</svg>
</body></html>
